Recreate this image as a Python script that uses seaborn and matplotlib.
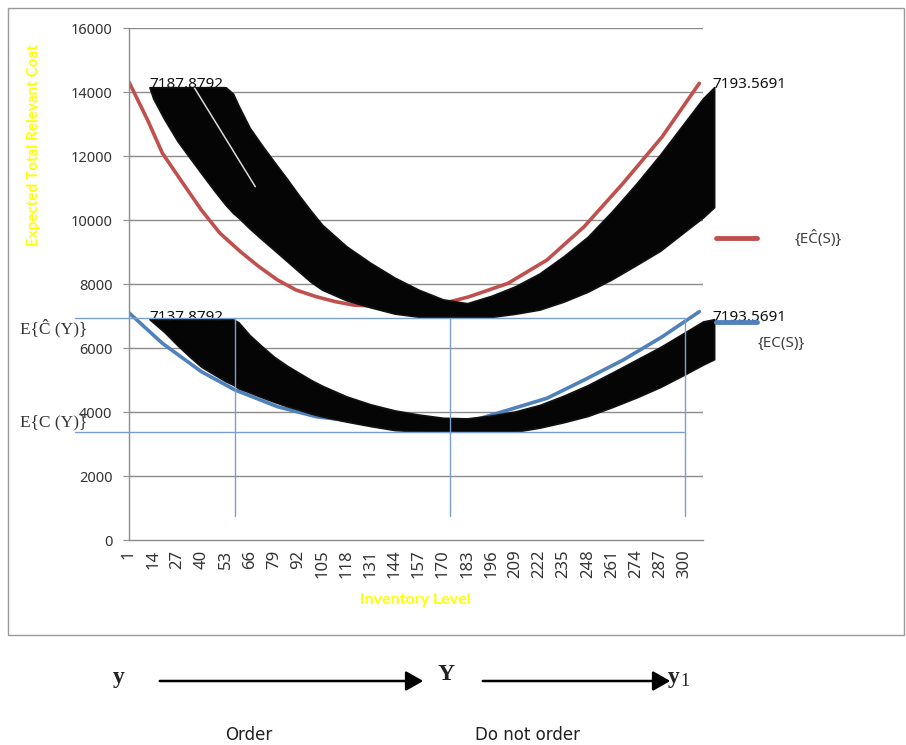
import matplotlib
matplotlib.use("Agg")
import numpy as np
import matplotlib.pyplot as plt
import seaborn as sns
from matplotlib.patches import Rectangle, FancyArrowPatch
from matplotlib.lines import Line2D

# ── values ───────────────────────────────────────────────────────
red_cat = [1, 11, 19, 30, 40, 50, 61, 71, 81, 91, 102, 112, 122, 147, 174, 184, 205, 226, 246,
           267, 288, 308]
red_val = [14310, 13125, 12085, 11150, 10310, 9585, 9010, 8540, 8125, 7810, 7600, 7450, 7340,
           7280, 7450, 7600, 8020, 8750, 9790, 11150, 12600, 14270]

blue_cat = [1, 19, 40, 58, 81, 102, 125, 150, 175, 190, 205, 226, 246, 267, 288, 308]
blue_val = [7100, 6145, 5260, 4690, 4165, 3850, 3700, 3640, 3660, 3800, 4060, 4430, 5000, 5625,
            6350, 7135]

# black bands = the piled-up data labels of the individual runs
band_cat = [12, 14, 20, 27, 34, 40, 47, 53, 57, 60, 66, 73, 79, 86, 92, 99, 105, 118, 131, 144,
            157, 170, 183, 196, 209, 222, 235, 248, 261, 274, 287, 300, 310, 316]
up_top = [14150, 14150, 14150, 14150, 14150, 14150, 14150, 14150, 13950, 13570, 12880, 12300,
          11830, 11290, 10810, 10280, 9850, 9180, 8660, 8200, 7820, 7520, 7400, 7630, 7930, 8330,
          8870, 9480, 10270, 11130, 12050, 13040, 13800, 14150]
up_bot = [14150, 13800, 13150, 12475, 11920, 11450, 10910, 10470, 10220, 10070, 9730, 9370, 9070,
          8715, 8410, 8060, 7820, 7490, 7270, 7075, 6975, 6970, 6970, 6970, 7070, 7200, 7450,
          7760, 8150, 8590, 9040, 9630, 10080, 10400]
lo_top = [6900, 6900, 6900, 6900, 6900, 6900, 6900, 6900, 6900, 6800, 6400, 6030, 5730, 5450,
          5240, 5000, 4820, 4490, 4240, 4050, 3920, 3820, 3800, 3890, 4020, 4220, 4510, 4840,
          5230, 5630, 6030, 6480, 6830, 6900]
lo_bot = [6900, 6800, 6500, 6090, 5710, 5410, 5165, 4960, 4850, 4740, 4610, 4450, 4320, 4180,
          4080, 3950, 3860, 3700, 3560, 3435, 3390, 3385, 3385, 3385, 3385, 3510, 3680, 3875,
          4150, 4450, 4780, 5170, 5480, 5650]
# thin white seam between the two strands of the upper-left pile
seam_cat = [36, 69]
seam_val = [14150, 11040]

label_left_up = "7187.8792"
label_left_lo = "7137.8792"
label_right = "7193.5691"
label_top_up = 14470
label_top_lo = 7190

n_cat = 310
xtick_step = 13
yticks = list(range(0, 16001, 2000))

c_hat_level = 6940      # E{C^(Y)}
c_level = 3375          # E{C(Y)}
cut_cats = [58, 174, 300.5]
cut_floor = 750
hline_x0 = -28

RED = "#c0504d"
BLUE = "#4f81bd"
GUIDE = "#7a9fd0"
GRID = "#8c8c8c"
TXT = "#333333"

sns.set_theme(style="white")
plt.rcParams["font.family"] = ["Noto Sans", "DejaVu Sans"]

fig = plt.figure(figsize=(9.06, 7.45), dpi=100)
ax = fig.add_axes([129 / 906, 1 - 540 / 745, (703 - 129) / 906, (540 - 28) / 745])

# chart frame
fig.add_artist(Rectangle((8 / 906, 1 - 635 / 745), 896 / 906, 627 / 745,
                         transform=fig.transFigure, fill=False, ec="#9a9a9a", lw=1))

for lv in yticks[1:]:
    ax.axhline(lv, color=GRID, lw=1, zorder=0)

sns.lineplot(x=red_cat, y=red_val, ax=ax, color=RED, lw=2.6, zorder=2)
sns.lineplot(x=blue_cat, y=blue_val, ax=ax, color=BLUE, lw=2.6, zorder=2)

# label piles
for top, bot in [(up_top, up_bot), (lo_top, lo_bot)]:
    pc = ax.fill_between(band_cat, bot, top, color="#050505", lw=1.2, ec="#111111", zorder=3)
    pc.set_clip_on(False)
ax.plot(seam_cat, seam_val, color="white", lw=1.1, alpha=0.85, zorder=3.5)

# end labels sitting on top of the piles
lab_kw = dict(fontsize=11, color="#111111", zorder=4, clip_on=False, va="top")
ax.text(band_cat[0], label_top_up, label_left_up, ha="left", **lab_kw)
ax.text(band_cat[0], label_top_lo, label_left_lo, ha="left", **lab_kw)
ax.text(band_cat[-1] - 1, label_top_up, label_right, ha="left", **lab_kw)
ax.text(band_cat[-1] - 1, label_top_lo, label_right, ha="left", **lab_kw)

# guide lines
for lv in (c_hat_level, c_level):
    ax.plot([hline_x0, cut_cats[-1]], [lv, lv], color=GUIDE, lw=1, clip_on=False, zorder=5)
for cc in cut_cats:
    ax.plot([cc, cc], [cut_floor, c_hat_level], color=GUIDE, lw=1, clip_on=False, zorder=5)

ax.set_xlim(1, n_cat)
ax.set_ylim(0, 16000)
ax.set_yticks(yticks)
ax.set_yticklabels([str(v) for v in yticks], fontsize=10.5, color=TXT)
cats = list(range(1, n_cat + 1))
ax.set_xticks(cats)
ax.set_xticklabels([str(c) if (c - 1) % xtick_step == 0 else "" for c in cats],
                   rotation=90, fontsize=12, color=TXT)
ax.tick_params(axis="x", length=5, width=0.6, color=GRID, pad=2)
ax.tick_params(axis="y", length=4, width=0.8, color=GRID, pad=8, left=True)
for s in ("top", "right"):
    ax.spines[s].set_visible(False)
for s in ("left", "bottom"):
    ax.spines[s].set_color(GRID)
    ax.spines[s].set_linewidth(1)

yel = ["Lato", "DejaVu Sans"]
fig.text(34 / 906, 1 - 145 / 745, "Expected Total Relevant Coat", rotation=90, color="#ffff00",
         family=yel, fontsize=11, fontweight="bold", ha="center", va="center")
fig.text(415 / 906, 1 - 600 / 745, "Inventory Level", color="#ffff00", family=yel,
         fontsize=11.5, fontweight="bold", ha="center", va="center")

serif = ["Liberation Serif", "DejaVu Serif"]
fig.text(20 / 906, 1 - 328 / 745, "E{Ĉ (Y)}", family=serif, fontsize=12.5, color="#333333",
         va="center")
fig.text(20 / 906, 1 - 422 / 745, "E{C (Y)}", family=serif, fontsize=12.5, color="#333333",
         va="center")

# legend, placed as in the original
fig.add_artist(Line2D([716 / 906, 757 / 906], [1 - 238 / 745] * 2, color=RED, lw=3.5,
                      transform=fig.transFigure))
fig.add_artist(Line2D([716 / 906, 757 / 906], [1 - 322 / 745] * 2, color=BLUE, lw=3.5,
                      transform=fig.transFigure, zorder=6))
fig.text(795 / 906, 1 - 238 / 745, "{EĈ(S)}", fontsize=11, color="#404040", va="center")
fig.text(758 / 906, 1 - 343 / 745, "{EC(S)}", fontsize=11, color="#404040", va="center")

# decision strip under the chart
times = ["Liberation Serif", "DejaVu Serif"]
narrow = ["Liberation Sans Narrow", "DejaVu Sans"]
fig.text(113 / 906, 1 - 677 / 745, "y", family=times, fontsize=17, fontweight="bold",
         color="#222222", va="center")
fig.text(438 / 906, 1 - 675 / 745, "Y", family=times, fontsize=17, fontweight="bold",
         color="#222222", va="center")
fig.text(668 / 906, 1 - 677 / 745, "y", family=times, fontsize=17, fontweight="bold",
         color="#222222", va="center")
fig.text(680 / 906, 1 - 681 / 745, "1", family=times, fontsize=13, color="#222222", va="center")
for x0, x1 in [(157, 426), (480, 673)]:
    fig.add_artist(FancyArrowPatch((x0 / 906, 1 - 681 / 745), (x1 / 906, 1 - 681 / 745),
                                   transform=fig.transFigure,
                                   arrowstyle="-|>,head_length=7,head_width=4",
                                   mutation_scale=1.5, lw=1.8, color="black"))
fig.text(225 / 906, 1 - 735 / 745, "Order", family=narrow, fontsize=12, color="#222222",
         va="center")
fig.text(475 / 906, 1 - 735 / 745, "Do not order", family=narrow, fontsize=12, color="#222222",
         va="center")

fig.savefig("out.png", dpi=100, facecolor="white")
